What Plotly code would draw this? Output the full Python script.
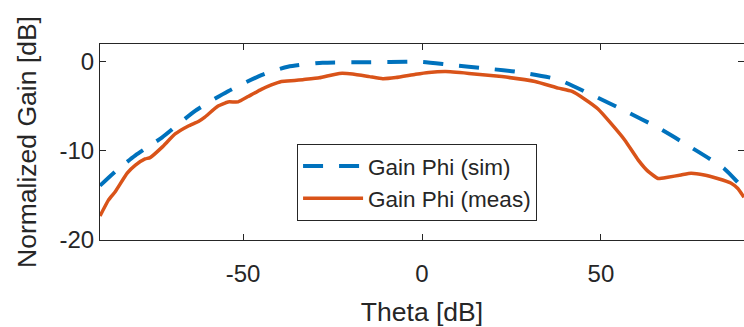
import plotly.graph_objects as go

theta_sim = [-90, -85.7, -80.1, -72.7, -63.4, -54.2, -44.9, -37.5, -27.8, -18, -9, 0, 8.3, 17.7, 27, 38.1, 47.4, 56.7, 66, 75.2, 84.5, 90]
gain_sim = [-13.9, -12.3, -10.5, -8.5, -5.5, -3.3, -1.5, -0.55, -0.1, -0.05, -0.03, 0.0, -0.37, -0.74, -1.15, -2.0, -3.7, -5.5, -7.4, -9.6, -12.0, -14.3]

theta_meas = [-90, -87.6, -85.7, -82.4, -80.1, -77.4, -76.0, -72.7, -69.0, -65.3, -62.5, -60.7, -57.0, -54.2,
              -51.4, -48.6, -44.9, -42.1, -39.3, -35.6, -33.3, -28.7, -23.1, -19.4, -14.7, -11.0, -7.3,
              -1.8, 1.9, 6.6, 13.1, 22.3, 31.6, 38.1, 41.8, 45.5, 49.2, 53, 56.7, 60.4, 63.2, 66, 68.7,
              72.4, 75.2, 78.9, 82.6, 86.3, 88.2, 90]
gain_meas = [-17.3, -15.5, -14.55, -12.5, -11.6, -10.9, -10.75, -9.6, -8.1, -7.2, -6.7, -6.2, -4.97, -4.5,
             -4.5, -3.9, -3.1, -2.6, -2.2, -2.1, -2.0, -1.8, -1.3, -1.36, -1.66, -1.9, -1.77,
             -1.4, -1.2, -1.1, -1.3, -1.66, -2.2, -2.95, -3.3, -4.2, -5.3, -7.0, -8.8, -11.0, -12.3, -13.1, -12.96,
             -12.7, -12.5, -12.7, -13.1, -13.6, -14.2, -15.2]

x_ticks = [-50, 0, 50]
x_tick_text = ["-50", "0", "50"]
y_ticks = [-20, -10, 0]
y_tick_text = ["-20", "-10", "0"]

FONT = "Liberation Sans, Arial, sans-serif"
TXT = "#262626"

fig = go.Figure()
fig.add_trace(go.Scatter(x=theta_sim, y=gain_sim, mode="lines", name="Gain Phi (sim)",
                         line=dict(color="#0072BD", width=4, dash="20px,16px", shape="spline", smoothing=0.6)))
fig.add_trace(go.Scatter(x=theta_meas, y=gain_meas, mode="lines", name="Gain Phi (meas)",
                         line=dict(color="#D95319", width=3.5, shape="spline", smoothing=0.4)))

axis_common = dict(showgrid=False, zeroline=False, showline=True, mirror="allticks", automargin=False,
                   linecolor=TXT, linewidth=1, ticks="inside", ticklen=6, tickcolor=TXT,
                   tickfont=dict(family=FONT, size=24, color=TXT))

fig.update_layout(
    width=744, height=327,
    margin=dict(l=100, r=0, t=44, b=87),
    paper_bgcolor="white", plot_bgcolor="white",
    font=dict(family=FONT, color=TXT),
    xaxis=dict(range=[-90, 90], tickvals=x_ticks, ticktext=x_tick_text, ticklabelstandoff=12, **axis_common,
               title=dict(text="Theta [dB]", font=dict(family=FONT, size=26.5, color=TXT), standoff=17)),
    yaxis=dict(range=[-20, 2], tickvals=y_ticks, ticktext=y_tick_text, **axis_common,
               title=dict(text="Normalized Gain [dB]", font=dict(family=FONT, size=26.5, color=TXT), standoff=15)),
    legend=dict(x=0.306, y=0.49, xanchor="left", yanchor="top",
                bgcolor="white", bordercolor=TXT, borderwidth=1,
                font=dict(family=FONT, size=22.5, color=TXT), itemwidth=60),
    showlegend=True,
)

fig.write_html("out.html", config={"displayModeBar": False},
               post_script="document.body.style.margin='0px';")
